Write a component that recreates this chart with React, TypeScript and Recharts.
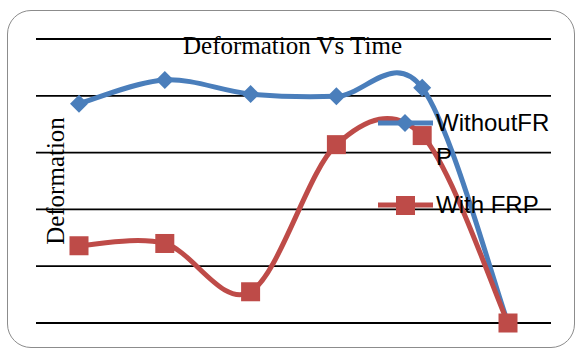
import { LineChart, Line, XAxis, YAxis, CartesianGrid, Legend } from "recharts";

const BLUE = "#4A7EBB";
const RED = "#BE4B48";

// time steps along the x axis (not labelled on the chart)
const TIMES = ["1", "2", "3", "4", "5", "6"];
const WITHOUT_FRP = [3.86, 4.28, 4.03, 3.99, 4.14, 0];
const WITH_FRP = [1.36, 1.4, 0.55, 3.14, 3.3, 0];
const Y_TICKS = [0, 1, 2, 3, 4, 5];

const data = TIMES.map((t, i) => ({
  time: t,
  without: WITHOUT_FRP[i],
  withFrp: WITH_FRP[i],
}));

// Office-style smoothed line: cubic bezier with control points at 1/6 of neighbour spans
function smoothCurve(context: any) {
  let pts: [number, number][] = [];
  return {
    areaStart() {},
    areaEnd() {},
    lineStart() {
      pts = [];
    },
    point(x: number, y: number) {
      pts.push([+x, +y]);
    },
    lineEnd() {
      if (!pts.length) return;
      context.moveTo(pts[0][0], pts[0][1]);
      for (let i = 0; i < pts.length - 1; i++) {
        const p0 = pts[Math.max(i - 1, 0)];
        const p1 = pts[i];
        const p2 = pts[i + 1];
        const p3 = pts[Math.min(i + 2, pts.length - 1)];
        context.bezierCurveTo(
          p1[0] + (p2[0] - p0[0]) / 6,
          p1[1] + (p2[1] - p0[1]) / 6,
          p2[0] - (p3[0] - p1[0]) / 6,
          p2[1] - (p3[1] - p1[1]) / 6,
          p2[0],
          p2[1]
        );
      }
    },
  };
}

const diamond = (cx: number, cy: number, r: number) =>
  `M${cx},${cy - r}L${cx + r},${cy}L${cx},${cy + r}L${cx - r},${cy}Z`;

const DiamondDot = (props: any) => {
  const { cx, cy, index } = props;
  if (cx == null || cy == null) return <g key={`d${index}`} />;
  return <path key={`d${index}`} d={diamond(cx, cy, 9)} fill={BLUE} />;
};

const SquareDot = (props: any) => {
  const { cx, cy, index } = props;
  if (cx == null || cy == null) return <g key={`s${index}`} />;
  return <rect key={`s${index}`} x={cx - 9.5} y={cy - 9.5} width={19} height={19} fill={RED} />;
};

// legend: blue entry on top (wraps onto two lines), red entry below
const LegendBox = (props: any) => {
  const { payload = [] } = props;
  return (
    <div style={{ position: "relative", width: 200, height: 120 }}>
      {payload.map((entry: any) => {
        const isBlue = entry.dataKey === "without";
        const top = isBlue ? 0 : 82;
        return (
          <div key={entry.value} style={{ position: "absolute", left: 0, top, display: "flex" }}>
            <svg width={58} height={34} style={{ flex: "none" }}>
              <line x1={0} y1={17} x2={55} y2={17} stroke={entry.color} strokeWidth={5} />
              {isBlue ? (
                <path d={diamond(27, 17, 9)} fill={BLUE} />
              ) : (
                <rect x={18} y={8} width={19} height={19} fill={RED} />
              )}
            </svg>
            <div
              style={{
                width: 120,
                fontFamily: "'Liberation Sans', Arial, sans-serif",
                fontSize: 24,
                lineHeight: "34px",
                color: "#000",
                wordBreak: "break-all",
              }}
            >
              {entry.value}
            </div>
          </div>
        );
      })}
    </div>
  );
};

export default function App() {
  return (
    <div style={{ position: "absolute", left: 0, top: 0, width: 576, height: 350, background: "#fff", overflow: "hidden" }}>
      <div
        style={{
          position: "absolute",
          left: 7,
          top: 10,
          width: 568,
          height: 338,
          boxSizing: "border-box",
          border: "1.5px solid #8c8c8c",
          borderRadius: 24,
        }}
      />
      <div style={{ position: "absolute", left: 0, top: 0 }}>
        <LineChart width={576} height={350} data={data} margin={{ top: 39, right: 25, bottom: 27, left: 36 }}>
          <CartesianGrid vertical={false} stroke="#000" strokeWidth={1.8} />
          <XAxis dataKey="time" hide padding={{ left: 43, right: 43 }} />
          <YAxis hide domain={[0, 5]} ticks={Y_TICKS} />
          <Legend
            layout="horizontal"
            verticalAlign="middle"
            align="center"
            content={<LegendBox />}
            wrapperStyle={{ position: "absolute", left: 378, top: 106, width: 200, height: 120 }}
          />
          <Line
            dataKey="without"
            name="WithoutFRP"
            type={smoothCurve as any}
            stroke={BLUE}
            strokeWidth={5}
            dot={DiamondDot}
            activeDot={false}
            isAnimationActive={false}
          />
          <Line
            dataKey="withFrp"
            name="With FRP"
            type={smoothCurve as any}
            stroke={RED}
            strokeWidth={5}
            dot={SquareDot}
            activeDot={false}
            isAnimationActive={false}
          />
        </LineChart>
      </div>
      <svg width={576} height={350} style={{ position: "absolute", left: 0, top: 0, pointerEvents: "none" }}>
        <text
          x={292.5}
          y={53.5}
          textAnchor="middle"
          fontFamily="'Liberation Serif', 'Times New Roman', serif"
          fontSize={25}
          fill="#000"
        >
          Deformation Vs Time
        </text>
        <text
          transform="translate(64,181) rotate(-90)"
          textAnchor="middle"
          fontFamily="'Liberation Serif', 'Times New Roman', serif"
          fontSize={25}
          fill="#000"
        >
          Deformation
        </text>
      </svg>
    </div>
  );
}
